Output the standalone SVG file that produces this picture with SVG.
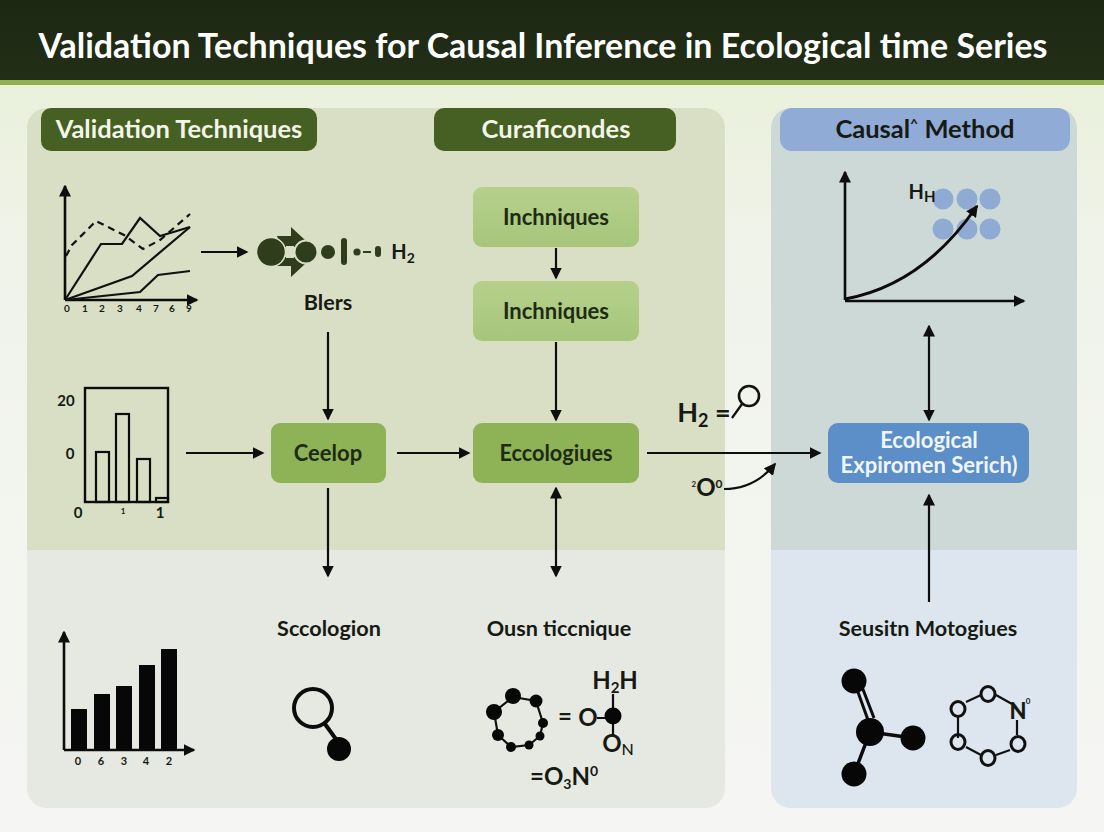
<svg xmlns="http://www.w3.org/2000/svg" width="1104" height="832" viewBox="0 0 1104 832">
<style>
text{font-family:Lato,"Open Sans","Liberation Sans",sans-serif;font-weight:700;fill:#161a12;text-anchor:middle}
.ln{fill:none;stroke:#111;stroke-width:2.2}
.ax{fill:none;stroke:#0c0c0c;stroke-width:2.6}
.con{fill:none;stroke:#0e0e0e;stroke-width:2.2}
.b{fill:none;stroke:#0c0c0c;stroke-width:2.2}
.k{fill:#070707}
.tick{font-size:10px}
.lbl{font-size:21.6px}
.nd{font-size:22px}
.hd{font-size:25.5px}
.atom{fill:none;stroke:#111;stroke-width:3}
.dk{fill:#2f3d1c}
.cb{fill:#8fabd3}
</style>
<defs>
<marker id="ah" viewBox="0 0 12 12" refX="10.5" refY="6" markerWidth="12" markerHeight="12" markerUnits="userSpaceOnUse" orient="auto"><path d="M0 0L12 6L0 12Z" fill="#0e0e0e"/></marker>
<marker id="ahs" viewBox="0 0 12 12" refX="1.5" refY="6" markerWidth="12" markerHeight="12" markerUnits="userSpaceOnUse" orient="auto"><path d="M12 0L0 6L12 12Z" fill="#0e0e0e"/></marker>
<linearGradient id="bg" x1="0" y1="0" x2="0" y2="1"><stop offset="0" stop-color="#e6efd3"/><stop offset="0.3" stop-color="#f0f3ea"/><stop offset="1" stop-color="#f5f6f4"/></linearGradient>
<linearGradient id="gn" x1="0" y1="0" x2="0" y2="1"><stop offset="0" stop-color="#b6d08c"/><stop offset="1" stop-color="#a6c67a"/></linearGradient>
<linearGradient id="hdr" x1="0" y1="0" x2="0" y2="1"><stop offset="0" stop-color="#1d2813"/><stop offset="1" stop-color="#222e16"/></linearGradient>
</defs>
<rect width="1104" height="832" fill="url(#bg)"/>
<rect width="1104" height="80" fill="url(#hdr)"/>
<rect y="80" width="1104" height="5" fill="#8fb04f"/>
<text x="543" y="58" textLength="1009" lengthAdjust="spacingAndGlyphs" style="font-size:35px;fill:#fff">Validation Techniques for Causal Inference in Ecological time Series</text>

<g id="panel-left">
<path d="M47 108H705a20 20 0 0 1 20 20V550H27V128a20 20 0 0 1 20-20Z" fill="#d9dfc5"/>
<path d="M27 550H725V788a20 20 0 0 1-20 20H47a20 20 0 0 1-20-20Z" fill="#e6e8e2"/>
</g>
<g id="panel-right">
<path d="M791 108H1057a20 20 0 0 1 20 20V550H771V128a20 20 0 0 1 20-20Z" fill="#cdd9d6"/>
<path d="M771 550H1077V788a20 20 0 0 1-20 20H791a20 20 0 0 1-20-20Z" fill="#dde6ee"/>
</g>

<g id="hdr-validation"><rect x="41" y="108" width="276" height="43" rx="10" fill="#465f22"/><text x="179" y="138" class="hd" style="fill:#f2f5e8">Validation Techniques</text></g>
<g id="hdr-curaficondes"><rect x="434" y="108" width="242" height="43" rx="10" fill="#465f22"/><text x="556" y="138" class="hd" style="fill:#f2f5e8">Curaficondes</text></g>
<g id="hdr-causal"><rect x="780" y="108" width="290" height="43" rx="12" fill="#8fabd6"/><text x="925" y="138" class="hd">Causal<tspan font-size="14" dy="-9">^</tspan><tspan dy="9"> Method</tspan></text></g>

<g id="chart-lines">
<path class="ax" d="M65 300V186" marker-end="url(#ah)"/>
<path class="ax" d="M65 300H197" marker-end="url(#ah)"/>
<path class="ln" d="M65 300L101 244H122L140 218L160 236L190 227"/>
<path class="ln" d="M65 300L132 276L190 227"/>
<path class="ln" d="M65 300L140 292L158 275L190 271"/>
<path class="ln" stroke-dasharray="7 5" d="M66 256L72 245L96 221L124 235L143 249L160 240L190 214"/>
<g class="tick"><text x="67" y="312">0</text><text x="85" y="312">1</text><text x="102" y="312">2</text><text x="120" y="312">3</text><text x="139" y="312">4</text><text x="156" y="312">7</text><text x="172" y="312">6</text><text x="189" y="312">9</text></g>
</g>

<g id="bars-outline">
<rect x="85" y="388" width="83" height="114" class="b" style="stroke-width:2.4"/>
<rect x="96" y="452" width="13" height="50" class="b"/>
<rect x="116" y="414" width="13" height="88" class="b"/>
<rect x="137" y="459" width="13" height="43" class="b"/>
<rect x="156" y="498" width="12" height="4" class="b"/>
<text x="66" y="406" style="font-size:15px">20</text><text x="70" y="459" style="font-size:15px">0</text><text x="78" y="518" style="font-size:15px">0</text><text x="123" y="514" style="font-size:8px">1</text><text x="160" y="518" style="font-size:15px">1</text>
</g>

<g id="bars-solid">
<path class="ax" d="M64 750V632" marker-end="url(#ah)"/>
<path class="ax" d="M64 750H194" marker-end="url(#ah)"/>
<g class="k"><rect x="71" y="709" width="16" height="41"/><rect x="94" y="694" width="16" height="56"/><rect x="116" y="686" width="16" height="64"/><rect x="139" y="665" width="16" height="85"/><rect x="161" y="649" width="16" height="101"/></g>
<g style="font-size:11px"><text x="78" y="765">0</text><text x="101" y="765">6</text><text x="124" y="765">3</text><text x="146" y="765">4</text><text x="169" y="765">2</text></g>
</g>

<g id="icon-blers">
<path class="dk" d="M277 236H291V227L305 240L300 247H281ZM277 266H291V277L305 264L300 257H281Z"/>
<circle cx="271" cy="252" r="14.5" class="dk" stroke="#d9dfc5" stroke-width="1.5"/>
<rect x="286" y="246" width="8" height="12" fill="#d9dfc5"/>
<circle cx="306" cy="252" r="11.5" class="dk" stroke="#d9dfc5" stroke-width="2"/>
<circle cx="328" cy="252" r="7" class="dk"/>
<rect x="341" y="238" width="6" height="27" rx="3" class="dk"/>
<circle cx="357" cy="252" r="3.6" class="dk"/><rect x="363" y="251" width="8" height="2" class="dk"/><rect x="375" y="246" width="6" height="11" rx="3" class="dk"/>
<text x="403" y="259" style="font-size:20px">H<tspan font-size="14" dy="4">2</tspan></text>
<text x="328" y="310" class="lbl">Blers</text>
</g>

<g id="node-inchniques-1"><rect x="473" y="187" width="166" height="60" rx="9" fill="url(#gn)"/><text x="556" y="225" class="nd" style="fill:#1f2a14">Inchniques</text></g>
<g id="node-inchniques-2"><rect x="473" y="281" width="166" height="60" rx="9" fill="url(#gn)"/><text x="556" y="319" class="nd" style="fill:#1f2a14">Inchniques</text></g>
<g id="node-ceelop"><rect x="271" y="423" width="115" height="60" rx="9" fill="#8db356"/><text x="328" y="461" class="nd" style="fill:#1f2a14">Ceelop</text></g>
<g id="node-ecologiues"><rect x="473" y="423" width="166" height="60" rx="9" fill="#8db356"/><text x="556" y="461" class="nd" textLength="113" lengthAdjust="spacingAndGlyphs" style="fill:#1f2a14">Eccologiues</text></g>
<g id="node-ecological"><rect x="828" y="423" width="201" height="60" rx="10" fill="#5c8ec7"/><text x="929" y="448" class="nd" style="fill:#f0f5fb">Ecological</text><text x="929" y="473" class="nd" style="fill:#f0f5fb">Expiromen Serich)</text></g>

<g id="connectors">
<path class="con" d="M201 252H247" marker-end="url(#ah)"/>
<path class="con" d="M328 332V419" marker-end="url(#ah)"/>
<path class="con" d="M556 248V278" marker-end="url(#ah)"/>
<path class="con" d="M556 342V420" marker-end="url(#ah)"/>
<path class="con" d="M186 453H263" marker-end="url(#ah)"/>
<path class="con" d="M397 453H469" marker-end="url(#ah)"/>
<path class="con" d="M647 453H820" marker-end="url(#ah)"/>
<path class="con" d="M328 488V576" marker-end="url(#ah)"/>
<path class="con" d="M556 488V576" marker-start="url(#ahs)" marker-end="url(#ah)"/>
<path class="con" d="M929 326V420" marker-start="url(#ahs)" marker-end="url(#ah)"/>
<path class="con" d="M929 602V495" marker-end="url(#ah)"/>
<path class="con" d="M724 489C745 489 762 480 775 464" marker-end="url(#ah)"/>
</g>

<g id="label-h2"><text x="704" y="422" style="font-size:27px">H<tspan font-size="18" dy="5">2</tspan><tspan dy="-5"> =</tspan></text>
<circle cx="749" cy="396" r="10" fill="none" stroke="#111" stroke-width="2.6"/><path d="M742 404L732 418" class="con"/></g>
<g id="label-o"><text x="707" y="496" style="font-size:24px"><tspan font-size="8" dy="-9">2</tspan><tspan dy="9">O</tspan><tspan font-size="12" dy="-8">0</tspan></text></g>

<g id="chart-curve">
<g class="cb"><circle cx="943" cy="199" r="10.5"/><circle cx="967" cy="199" r="10.5"/><circle cx="990" cy="199" r="10.5"/><circle cx="943" cy="229" r="10.5"/><circle cx="967" cy="229" r="10.5"/><circle cx="990" cy="229" r="10.5"/></g>
<path class="ax" d="M845 300V172" marker-end="url(#ah)"/>
<path class="ax" d="M845 301H1024" marker-end="url(#ah)"/>
<path d="M845 299C895 290 940 260 977 206" fill="none" stroke="#0c0c0c" stroke-width="3" marker-end="url(#ah)"/>
<text x="922" y="199" style="font-size:20px">H<tspan font-size="15" dy="3">H</tspan></text>
</g>

<text id="label-scc" x="329" y="636" class="lbl">Sccologion</text>
<text id="label-ousn" x="559" y="636" class="lbl">Ousn ticcnique</text>
<text id="label-seu" x="928" y="636" class="lbl">Seusitn Motogiues</text>

<g id="icon-lens"><circle cx="313" cy="708" r="19" fill="none" stroke="#0c0c0c" stroke-width="4"/><path d="M325 724L338 742" stroke="#0c0c0c" stroke-width="4"/><circle cx="339" cy="749" r="12" class="k"/></g>

<g id="icon-ring">
<path d="M513 697L536 701L543 723L540 736L529 745L511 747L498 735L494 712Z" class="ln"/>
<g class="k"><circle cx="494" cy="712" r="8"/><circle cx="513" cy="696" r="8"/><circle cx="536" cy="701" r="6.5"/><circle cx="543" cy="723" r="5"/><circle cx="540" cy="736" r="4.5"/><circle cx="529" cy="745" r="4.5"/><circle cx="511" cy="747" r="5"/><circle cx="498" cy="735" r="6"/></g>
<text x="565" y="725" style="font-size:24px">=</text>
<text x="588" y="726" style="font-size:24px">O</text>
<path d="M597 718H613M613 694V735" class="con"/><circle cx="613" cy="716" r="8.5" class="k"/>
<text x="615" y="689" style="font-size:24px">H<tspan font-size="15" dy="4">2</tspan><tspan dy="-4">H</tspan></text>
<text x="618" y="752" style="font-size:24px">O<tspan font-size="16" dy="3" font-weight="500">N</tspan></text>
<text x="564" y="785" style="font-size:24px">=O<tspan font-size="14" dy="4">3</tspan><tspan dy="-4">N</tspan><tspan font-size="14" dy="-9">0</tspan></text>
</g>

<g id="icon-molecule">
<path d="M854 681L868 720M859 679L874 718" stroke="#0c0c0c" stroke-width="3" fill="none"/>
<path d="M870 732L913 738M870 732L854 774" stroke="#0c0c0c" stroke-width="3.5" fill="none"/>
<g class="k"><circle cx="854" cy="681" r="12.5"/><circle cx="870" cy="732" r="14"/><circle cx="913" cy="738" r="12.5"/><circle cx="854" cy="774" r="12.5"/></g>
</g>
<g id="icon-hex">
<path d="M966 702L981 695M996 695L1012 704M1017 720V735M1010 750L996 755M981 755L966 747M958 738V717" stroke="#111" stroke-width="2.2" fill="none"/>
<g class="atom"><ellipse cx="958" cy="709" rx="7" ry="7.5"/><ellipse cx="988" cy="694" rx="7" ry="7.5"/><ellipse cx="958" cy="742" rx="7" ry="7.5"/><ellipse cx="1018" cy="744" rx="7" ry="7.5"/><ellipse cx="988" cy="758" rx="7" ry="7.5"/></g>
<text x="1018" y="719" style="font-size:22px;font-weight:900">N</text><text x="1028" y="704" style="font-size:8px">0</text>
</g>
</svg>
